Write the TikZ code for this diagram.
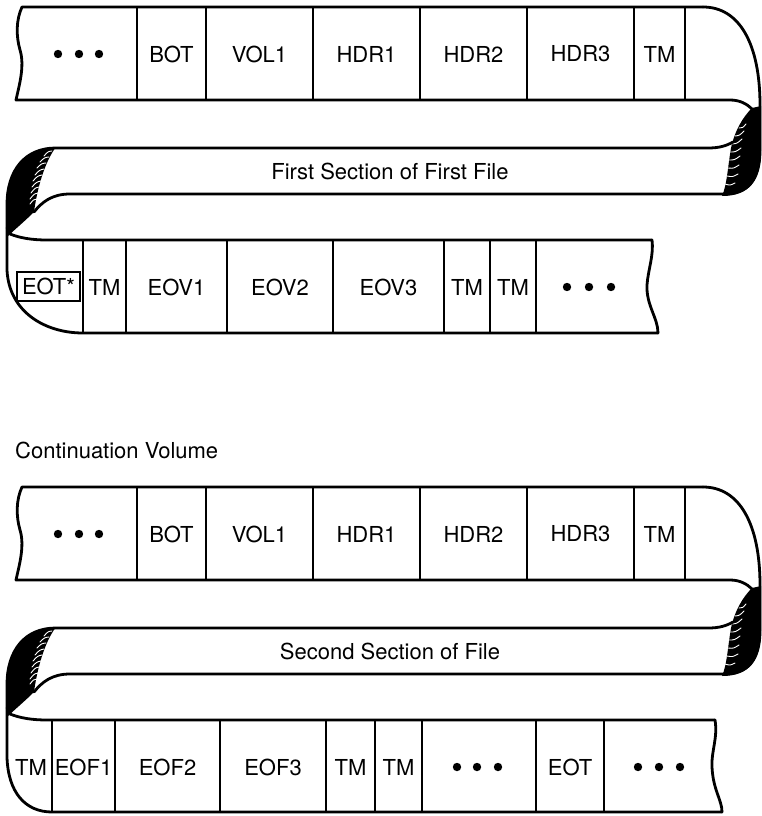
\documentclass[tikz,border=0pt]{standalone}
\usepackage{fontspec}
\setmainfont{TeX Gyre Heros}
\usetikzlibrary{calc}
\tikzset{
  tape/.style={line width=2.8pt, line join=round, line cap=round},
  divider/.style={line width=2.4pt},
  lbl/.style={inner sep=0pt, font=\fontsize{22pt}{26pt}\selectfont},
  streak/.style={white, line width=0.9pt, line cap=round},
}
\newcommand\UpperGroup[2]{%
\begin{scope}[shift={(0,#2)}]
  % black curls
  \fill (752,108) -- (761,106) -- (761,150) .. controls (761,182) and (748,196) .. (722,196)
        .. controls (727,185) and (728,165) .. (731,148) .. controls (735,130) and (743,117) .. (752,108) -- cycle;
  \fill (56,147) .. controls (25,147) and (6,170) .. (6,205) -- (6,238)
        .. controls (14,230) and (24,222) .. (34,212) .. controls (37,190) and (44,163) .. (56,147) -- cycle;
  \foreach \a/\b/\c/\d in {52/151/44/156, 49/157/40/162, 46/163/37/168, 44/169/35/175,
                           42/175/33/181, 41/181/32/187, 39/187/31/193, 38/193/30/199, 37/199/30/204}
    \draw[streak] (\a,\b) .. controls ($(\a,\b)!0.5!(\c,\d)+(0,-2)$) .. (\c,\d);
  \foreach \a/\b/\c/\d in {739/128/746/124, 735/136/744/131, 732/144/742/139, 730/152/741/148,
                           729/160/740/156, 728/168/739/165, 727/176/738/174, 725/184/735/183}
    \draw[streak] (\a,\b) .. controls ($(\a,\b)!0.5!(\c,\d)+(0,2)$) .. (\c,\d);
  % top strip
  \draw[tape] (703,7) -- (22,7) .. controls (16,20) and (16,36) .. (20,50)
        .. controls (25,66) and (19,86) .. (16,100) -- (730,100) .. controls (740,100) and (747,104) .. (752,109);
  \draw[tape] (703,7) .. controls (740,7) and (760,45) .. (760,105) -- (760,150)
        .. controls (760,180) and (748,194) .. (724,194) -- (70,194) .. controls (52,194) and (42,202) .. (34,212);
  \draw[tape] (733,142) .. controls (726,146) and (719,148) .. (708,148) -- (56,148)
        .. controls (25,148) and (7,170) .. (7,205) -- (7,228);
  \foreach \x in {137,206,313,420,527,634,685} \draw[divider] (\x,7) -- (\x,100);
  \foreach \x in {58,79,99} \fill (\x,54) circle[radius=4.2pt];
  \node[lbl] (#1bot) at (171.5,54) {BOT};
  \node[lbl] (#1vol) at (259.5,54) {VOL1};
  \node[lbl] (#1hdra) at (366.5,54) {HDR1};
  \node[lbl] (#1hdrb) at (473.5,54) {HDR2};
  \node[lbl] (#1hdrc) at (580.5,54) {HDR3};
  \node[lbl] (#1tm) at (659.5,54) {TM};
\end{scope}}
\begin{document}
\begin{tikzpicture}[x=1pt,y=-1pt]
\useasboundingbox (0,0) rectangle (762,816);
\fill[white] (0,0) rectangle (762,816);

% ---------- first volume ----------
\UpperGroup{a}{0}
\node[lbl] (aband) at (390,171) {First Section of First File};
\draw[tape] (7,228) -- (7,270) .. controls (9,312) and (45,333) .. (83,333) -- (658,333);
\draw[tape] (10,234) .. controls (20,238) and (32,240) .. (47,240) -- (652,240);
\draw[tape] (652,240) .. controls (654,255) and (648,270) .. (647,285)
      .. controls (646,305) and (658,318) .. (658,333);
\foreach \x in {83,126,227,333,444,490,536} \draw[divider] (\x,240) -- (\x,333);
\node[lbl, draw, line width=1.3pt, minimum width=63pt, minimum height=29pt] (aeotstar) at (48.5,286.5) {EOT*};
\node[lbl] (atma) at (104.5,287) {TM};
\node[lbl] (aeova) at (176.5,287) {EOV1};
\node[lbl] (aeovb) at (280,287) {EOV2};
\node[lbl] (aeovc) at (388.5,287) {EOV3};
\node[lbl] (atmb) at (467,287) {TM};
\node[lbl] (atmc) at (513,287) {TM};
\foreach \x in {567,589,611} \fill (\x,287) circle[radius=4.2pt];

% ---------- continuation volume ----------
\node[lbl, anchor=base west] (cont) at (15,458) {Continuation Volume};
\UpperGroup{b}{480}
\node[lbl] (bband) at (390,651) {Second Section of File};
\draw[tape] (7,708) -- (7,757) .. controls (8,792) and (25,812) .. (52,812) -- (722,812);
\draw[tape] (10,714) .. controls (20,718) and (32,720) .. (47,720) -- (715,720);
\draw[tape] (715,720) .. controls (718,738) and (711,752) .. (712,767)
      .. controls (713,790) and (722,800) .. (722,812);
\foreach \x in {52,115,220,326,375,422,536,604} \draw[divider] (\x,720) -- (\x,812);
\node[lbl] (btma) at (31,767) {TM};
\node[lbl] (beofa) at (83.5,767) {EOF1};
\node[lbl] (beofb) at (167.5,767) {EOF2};
\node[lbl] (beofc) at (273,767) {EOF3};
\node[lbl] (btmb) at (350.5,767) {TM};
\node[lbl] (btmc) at (398.5,767) {TM};
\foreach \x in {457,477,498} \fill (\x,767) circle[radius=4.2pt];
\node[lbl] (beot) at (570,767) {EOT};
\foreach \x in {638,659,680} \fill (\x,767) circle[radius=4.2pt];
\end{tikzpicture}
\end{document}
